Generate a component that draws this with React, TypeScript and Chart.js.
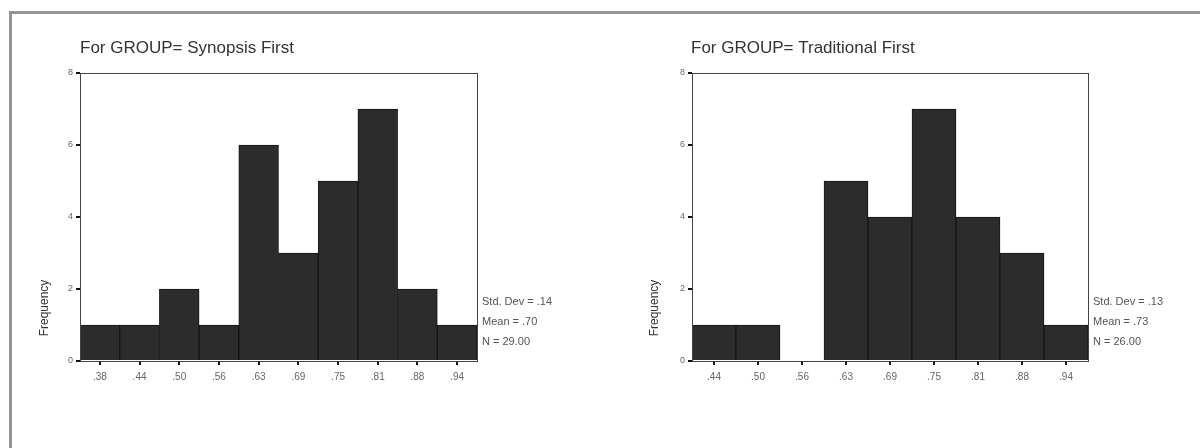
import React, { useEffect, useRef } from "react";
import { Chart, registerables } from "chart.js";

Chart.register(...registerables);

// ---- data ----
const leftTitle = "For GROUP= Synopsis First";
const leftCategories = [".38", ".44", ".50", ".56", ".63", ".69", ".75", ".81", ".88", ".94"];
const leftFrequencies = [1, 1, 2, 1, 6, 3, 5, 7, 2, 1];
const leftStats = ["Std. Dev = .14", "Mean = .70", "N = 29.00"];

const rightTitle = "For GROUP= Traditional First";
const rightCategories = [".44", ".50", ".56", ".63", ".69", ".75", ".81", ".88", ".94"];
const rightFrequencies = [1, 1, 0, 5, 4, 7, 4, 3, 1];
const rightStats = ["Std. Dev = .13", "Mean = .73", "N = 26.00"];

const yAxisTitle = "Frequency";
const yMin = 0;
const yMax = 8;
const yStep = 2;

const FONT = "'Liberation Sans', Arial, sans-serif";

type PanelProps = {
  left: number;
  title: string;
  categories: string[];
  values: number[];
  stats: string[];
  axisWidth: number;
  rightPad: number;
  titleX: number;
  freqX: number;
};

function HistogramPanel(p: PanelProps) {
  const ref = useRef<HTMLCanvasElement | null>(null);

  useEffect(() => {
    if (!ref.current) return;
    const decor = {
      id: "decor",
      afterDatasetsDraw(chart: any) {
        const { ctx, chartArea } = chart;
        const a = chartArea;
        ctx.save();
        // plot box
        ctx.strokeStyle = "#444";
        ctx.lineWidth = 1;
        ctx.strokeRect(Math.round(a.left) + 0.5, Math.round(a.top) + 0.5, Math.round(a.right - a.left), Math.round(a.bottom - a.top));
        // title
        ctx.fillStyle = "#333";
        ctx.font = `17px ${FONT}`;
        ctx.textAlign = "left";
        ctx.textBaseline = "middle";
        ctx.fillText(p.title, p.titleX, 48);
        // stats
        ctx.fillStyle = "#555";
        ctx.font = `11px ${FONT}`;
        ctx.textBaseline = "middle";
        const sx = a.right + 5;
        p.stats.forEach((s, i) => ctx.fillText(s, sx, 302 + i * 20));
        // y axis title
        ctx.fillStyle = "#333";
        ctx.font = `12px ${FONT}`;
        ctx.translate(p.freqX, 308);
        ctx.rotate(-Math.PI / 2);
        ctx.textAlign = "center";
        ctx.textBaseline = "middle";
        ctx.fillText(yAxisTitle, 0, 0);
        ctx.restore();
      },
    };

    const chart = new Chart(ref.current, {
      type: "bar",
      data: {
        labels: p.categories,
        datasets: [
          {
            data: p.values,
            backgroundColor: "#2c2c2c",
            borderColor: "#151515",
            borderWidth: 1,
            categoryPercentage: 1,
            barPercentage: 1,
          },
        ],
      },
      options: {
        responsive: false,
        animation: false,
        devicePixelRatio: 1,
        layout: { padding: { left: 0, top: 73, right: p.rightPad, bottom: 0 } },
        plugins: { legend: { display: false }, tooltip: { enabled: false }, title: { display: false } },
        scales: {
          x: {
            type: "category",
            offset: true,
            grid: { display: true, offset: false, drawOnChartArea: false, drawTicks: true, tickLength: 4, color: "#111", lineWidth: 2 },
            border: { display: true, color: "#444" },
            ticks: { color: "#666", font: { family: FONT, size: 10 }, padding: 6, maxRotation: 0, autoSkip: false },
            afterFit: (s: any) => {
              s.height = 87;
            },
          },
          y: {
            min: yMin,
            max: yMax,
            grid: { display: true, drawOnChartArea: false, drawTicks: true, tickLength: 4, color: "#111", lineWidth: 2 },
            border: { display: true, color: "#444" },
            ticks: { stepSize: yStep, color: "#666", font: { family: FONT, size: 9 }, padding: 3 },
            afterFit: (s: any) => {
              s.width = p.axisWidth;
            },
          },
        },
      },
      plugins: [decor],
    } as any);
    return () => chart.destroy();
  }, []);

  return (
    <canvas
      ref={ref}
      width={600}
      height={448}
      style={{ position: "absolute", left: p.left, top: 0, width: 600, height: 448 }}
    />
  );
}

export default function App() {
  return (
    <div
      style={{
        position: "fixed",
        left: 0,
        top: 0,
        width: 1200,
        height: 448,
        overflow: "hidden",
        background: "#fff",
      }}
    >
      <div
        style={{
          position: "absolute",
          left: 9,
          top: 11,
          width: 1400,
          height: 600,
          borderTop: "3px solid #939393",
          borderLeft: "3px solid #939393",
        }}
      />
      <HistogramPanel
        left={0}
        title={leftTitle}
        categories={leftCategories}
        values={leftFrequencies}
        stats={leftStats}
        axisWidth={80}
        rightPad={123}
        titleX={80}
        freqX={45}
      />
      <HistogramPanel
        left={600}
        title={rightTitle}
        categories={rightCategories}
        values={rightFrequencies}
        stats={rightStats}
        axisWidth={92}
        rightPad={112}
        titleX={91}
        freqX={55}
      />
    </div>
  );
}
